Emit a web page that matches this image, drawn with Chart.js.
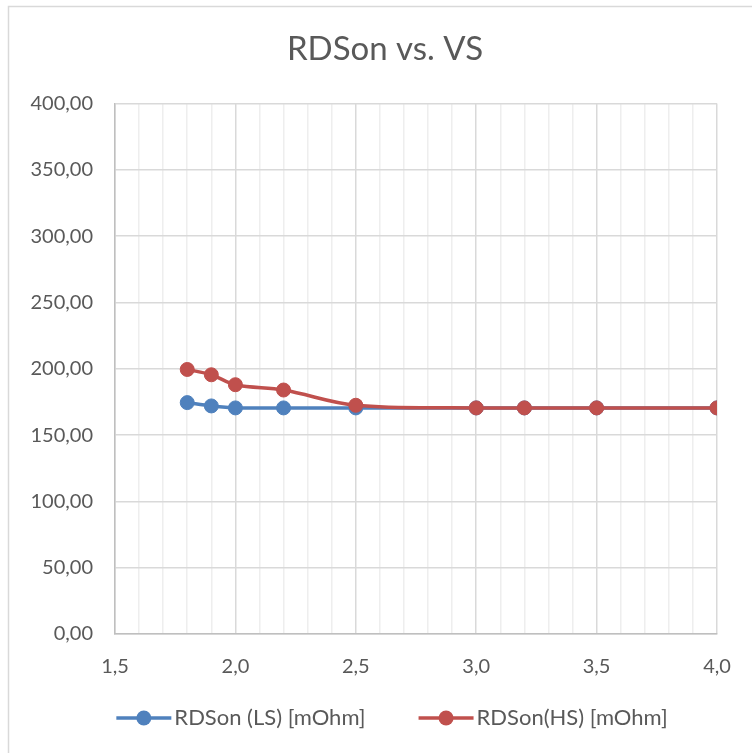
<!DOCTYPE html>
<html>
<head>
<meta charset="utf-8">
<script src="https://cdn.jsdelivr.net/npm/chart.js@4.4.1/dist/chart.umd.min.js"></script>
<style>
    html, body { margin: 0; padding: 0; background: #ffffff; }
    #wrap { width: 752px; height: 753px; position: relative; }
</style>
</head>
<body>
<div id="wrap"><canvas id="rdsonChart" width="752" height="753"></canvas></div>
<script>
// данные с графика
const vsValues = [1.8, 1.9, 2.0, 2.2, 2.5, 3.0, 3.2, 3.5, 4.0];
const rdsonLS = [174.5, 172, 170.5, 170.5, 170.5, 170.5, 170.5, 170.5, 170.5];
const rdsonHS = [199.5, 195.5, 188, 184, 172.5, 170.5, 170.5, 170.5, 170.5];
const seriesNames = ['RDSon (LS) [mOhm]', 'RDSon(HS) [mOhm]'];
const chartTitle = 'RDSon vs. VS';

const blue = 'rgb(79, 129, 189)';
const red = 'rgb(192, 80, 77)';
const textColor = '#595959';
const fontName = 'Lato, "Open Sans", sans-serif';

function isMajor(v) {
    return Math.abs(v * 2 - Math.round(v * 2)) < 1e-6;
}

// рамка слева и сверху
const framePlugin = {
    id: 'frame',
    beforeDraw(chart) {
        const ctx = chart.ctx;
        ctx.save();
        ctx.fillStyle = '#ffffff';
        ctx.fillRect(0, 0, chart.width, chart.height);
        ctx.strokeStyle = '#d9d9d9';
        ctx.lineWidth = 1.5;
        ctx.beginPath();
        ctx.moveTo(chart.width, 6.5);
        ctx.lineTo(8.5, 6.5);
        ctx.lineTo(8.5, chart.height);
        ctx.stroke();
        ctx.restore();
    }
};

// легенда как в Excel: линия с кружком, потом подпись
const excelLegend = {
    id: 'excelLegend',
    afterDraw(chart) {
        const ctx = chart.ctx;
        const lineLen = 55;
        const gap = 53;
        const y = 718;
        ctx.save();
        ctx.font = '22px ' + fontName;
        const widths = chart.data.datasets.map(ds => lineLen + 3 + ctx.measureText(ds.label).width);
        const total = widths.reduce((a, b) => a + b, 0) + gap * (widths.length - 1);
        let x = 392 - total / 2;
        chart.data.datasets.forEach((ds, i) => {
            ctx.strokeStyle = ds.borderColor;
            ctx.lineWidth = 3.5;
            ctx.beginPath();
            ctx.moveTo(x, y);
            ctx.lineTo(x + lineLen, y);
            ctx.stroke();
            ctx.fillStyle = ds.borderColor;
            ctx.beginPath();
            ctx.arc(x + lineLen / 2, y, 7.5, 0, Math.PI * 2);
            ctx.fill();
            ctx.fillStyle = textColor;
            ctx.textAlign = 'left';
            ctx.textBaseline = 'middle';
            ctx.fillText(ds.label, x + lineLen + 3, y);
            x += widths[i] + gap;
        });
        ctx.restore();
    }
};

const ctx = document.getElementById('rdsonChart').getContext('2d');

new Chart(ctx, {
    type: 'line',
    data: {
        datasets: [{
            label: seriesNames[0],
            data: vsValues.map((v, i) => ({ x: v, y: rdsonLS[i] })),
            borderColor: blue,
            backgroundColor: blue,
            borderWidth: 3.5,
            pointRadius: 7,
            pointBorderWidth: 1,
            tension: 0.35,
            fill: false,
            order: 1
        }, {
            label: seriesNames[1],
            data: vsValues.map((v, i) => ({ x: v, y: rdsonHS[i] })),
            borderColor: red,
            backgroundColor: red,
            borderWidth: 3.5,
            pointRadius: 7,
            pointBorderWidth: 1,
            tension: 0.35,
            fill: false,
            order: 0
        }]
    },
    options: {
        responsive: false,
        animation: false,
        layout: {
            padding: { left: 18, right: 0, top: 0, bottom: 61 }
        },
        scales: {
            x: {
                type: 'linear',
                min: 1.5,
                max: 4.0,
                ticks: {
                    stepSize: 0.1,
                    autoSkip: false,
                    maxRotation: 0,
                    padding: 21,
                    color: textColor,
                    font: { family: fontName, size: 20 },
                    callback: (v) => isMajor(v) ? v.toFixed(1).replace('.', ',') : ''
                },
                grid: {
                    drawTicks: false,
                    color: (c) => isMajor(c.tick.value) ? '#d9d9d9' : '#eeeeee',
                    lineWidth: 1.5
                },
                border: { color: '#bfbfbf', width: 1.5 },
                afterFit: (scale) => {
                    scale.height = 58;
                    scale.paddingRight = 35;
                }
            },
            y: {
                min: 0,
                max: 400,
                ticks: {
                    stepSize: 50,
                    padding: 22,
                    color: textColor,
                    font: { family: fontName, size: 20 },
                    callback: (v) => v.toFixed(2).replace('.', ',')
                },
                grid: {
                    drawTicks: false,
                    color: '#d9d9d9',
                    lineWidth: 1.5
                },
                border: { color: '#bfbfbf', width: 1.5 },
                afterFit: (scale) => { scale.width = 97; }
            }
        },
        plugins: {
            title: {
                display: true,
                text: chartTitle,
                color: textColor,
                font: { family: fontName, size: 33, weight: 'normal' },
                padding: { top: 30, bottom: 34 }
            },
            legend: { display: false },
            tooltip: { enabled: false }
        }
    },
    plugins: [framePlugin, excelLegend]
});
</script>
</body>
</html>
